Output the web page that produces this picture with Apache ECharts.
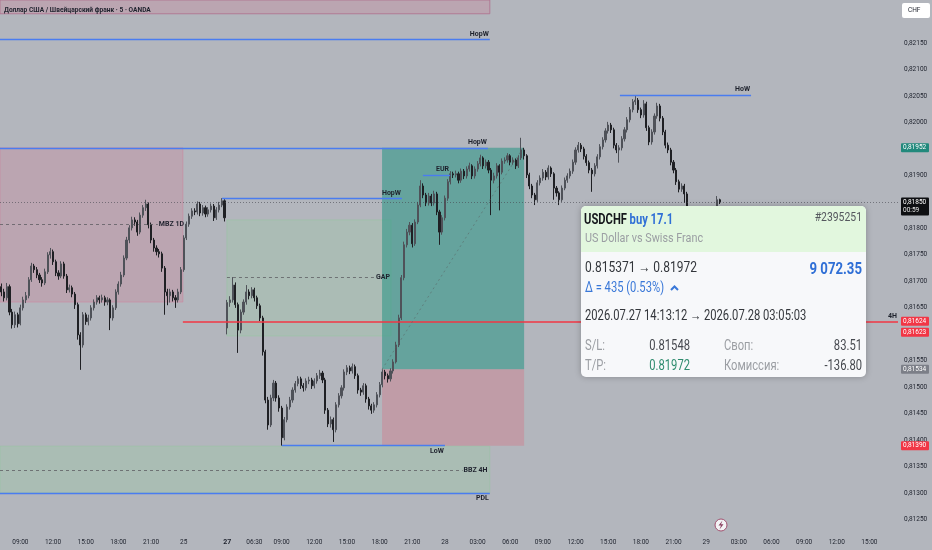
<!DOCTYPE html>
<html><head><meta charset="utf-8">
<script src="https://cdn.jsdelivr.net/npm/echarts@6/dist/echarts.min.js"></script>
<style>html,body{margin:0;padding:0;background:#b3b6bd;}#c{width:932px;height:550px;}</style>
</head><body><div id="c"></div>
<script>
// ---------- data ----------
const slotCount = 330; // 15-minute slots across the plot (incl. future space)
const tickSlots  = [7,19,31,43,55,67,83,93,103,115,127,139,151,163,175,187,199,211,223,235,247,259,271,283,295,307,319];
const tickLabels = ['09:00','12:00','15:00','18:00','21:00','25','27','06:30','09:00','12:00','15:00','18:00','21:00','28','03:00','06:00','09:00','12:00','15:00','18:00','21:00','29','03:00','06:00','09:00','12:00','15:00'];
const boldTicks = ['27'];
const priceTicks = [0.8125,0.8130,0.8135,0.8140,0.8145,0.8150,0.8155,0.8165,0.8170,0.8175,0.8180,0.8190,0.8200,0.8205,0.8210,0.8215];
const priceMin = 0.81227, priceMax = 0.82231;
const priceBase = 0.81, priceUnit = 0.00001;
// candles: [open, close, low, high] in units of 0.00001 above 0.81000
const candles = [
[690,680,672,696],[680,669,662,686],[669,690,664,697],[690,642,636,694],[642,618,611,648],
[618,637,612,643],[637,620,613,641],[620,650,617,656],[650,665,645,671],[665,673,659,680],
[673,703,668,708],[703,729,699,735],[729,722,716,733],[722,712,706,727],[712,703,697,716],
[703,697,690,708],[697,718,693,724],[718,750,714,755],[750,756,743,763],[756,737,731,760],
[737,716,710,741],[716,710,703,721],[710,733,706,738],[733,710,705,737],[710,684,678,714],
[684,688,679,694],[688,676,670,692],[676,656,648,680],[656,599,590,660],[599,580,533,604],
[580,637,575,642],[637,624,618,641],[624,631,617,637],[631,650,626,655],[650,661,645,666],
[661,669,656,674],[669,665,658,673],[665,669,660,675],[669,661,654,673],[661,665,655,670],
[665,631,608,668],[631,650,626,655],[650,680,646,685],[680,695,675,700],[695,712,690,718],
[712,744,708,749],[744,778,740,784],[778,801,772,806],[801,816,796,822],[816,812,805,821],
[812,793,786,816],[793,825,789,830],[825,839,820,844],[839,846,833,854],[846,807,800,849],
[807,778,772,811],[778,763,756,782],[763,756,749,768],[756,752,745,761],[752,725,718,756],
[725,680,637,729],[680,673,655,686],[673,680,660,686],[680,669,662,684],[669,665,650,674],
[665,680,660,686],[680,722,676,727],[722,782,718,787],[782,808,778,813],[808,823,803,828],
[823,833,818,838],[833,831,825,838],[831,846,826,851],[846,829,823,850],[829,839,824,844],
[839,827,821,843],[827,835,822,840],[835,842,830,847],[842,820,814,846],[820,835,816,840],
[835,844,830,850],[844,852,840,857],[852,820,813,855],[612,660,600,665],[660,665,652,672],
[665,693,660,708],[693,656,650,698],[656,608,565,660],[608,642,602,647],[642,661,637,666],
[661,680,656,693],[680,673,666,685],[673,684,668,689],[684,669,662,688],[669,654,648,673],
[654,631,625,658],[631,567,560,635],[567,476,470,571],[476,429,420,482],[429,480,425,486],
[480,508,474,514],[508,480,473,512],[480,461,454,485],[461,405,390,465],[405,439,400,444],
[439,463,434,468],[463,476,458,482],[476,495,471,500],[495,507,490,512],[507,516,502,521],
[516,503,497,520],[503,499,492,508],[499,512,494,517],[512,514,506,520],[514,503,497,518],
[503,512,498,517],[512,522,507,527],[522,527,516,533],[527,514,508,531],[514,457,450,518],
[457,431,425,461],[431,439,424,445],[439,420,397,443],[420,467,415,472],[467,484,462,489],
[484,499,479,504],[499,529,494,534],[529,537,523,542],[537,531,525,541],[531,539,526,545],
[539,522,516,543],[522,495,488,526],[495,491,484,499],[491,503,486,508],[503,478,471,507],
[478,465,458,482],[465,457,450,469],[457,467,452,472],[467,486,462,491],[486,505,481,510],
[505,529,500,534],[529,522,515,533],[522,516,509,526],[516,531,511,536],[531,548,526,553],
[548,580,545,586],[580,631,576,637],[631,707,627,712],[707,769,702,775],[769,793,764,799],
[793,806,787,812],[806,771,764,810],[771,812,767,817],[812,844,808,850],[844,880,840,891],
[880,863,857,885],[863,848,842,867],[848,861,843,867],[861,848,842,865],[848,865,843,871],
[865,831,825,869],[831,793,769,835],[793,820,788,825],[820,857,815,862],[857,888,852,893],
[888,903,883,908],[903,901,895,907],[901,903,896,909],[903,891,885,907],[891,908,886,913],
[908,899,893,912],[899,912,894,917],[912,918,907,924],[918,899,893,921],[899,912,894,917],
[912,922,907,927],[922,933,917,939],[933,918,912,936],[918,925,913,930],[925,910,904,929],
[910,891,825,914],[891,899,885,905],[899,918,894,923],[918,906,834,921],[906,927,902,932],
[927,929,922,934],[929,937,924,942],[937,925,919,940],[925,929,920,934],[929,918,912,932],
[918,933,914,938],[933,948,929,971],[948,937,930,952],[937,901,895,940],[901,880,874,905],
[880,863,857,884],[863,854,844,867],[854,886,850,891],[886,895,881,900],[895,906,890,912],
[906,897,891,910],[897,914,892,919],[914,903,897,917],[903,876,854,906],[876,867,860,880],
[867,854,844,870],[854,876,850,881],[876,891,872,896],[891,899,886,904],[899,908,894,913],
[908,925,903,930],[925,948,920,953],[948,957,943,963],[957,950,944,961],[950,936,930,954],
[936,924,918,940],[924,910,904,928],[910,903,869,914],[903,918,898,923],[918,935,913,940],
[935,954,930,959],[954,967,949,972],[967,984,962,989],[984,995,979,1001],[995,986,980,999],
[986,957,951,990],[957,948,942,961],[948,952,924,957],[952,969,947,974],[969,986,964,991],
[986,1005,981,1010],[1005,1024,1000,1029],[1024,1039,1019,1044],[1039,1042,1033,1050],[1042,1024,1018,1046],
[1024,1014,1008,1028],[1014,1035,1009,1042],[1035,990,984,1039],[990,963,957,994],[963,982,958,987],
[982,1012,977,1017],[1012,1031,1007,1037],[1031,1008,1002,1035],[1008,982,976,1012],[982,957,951,986],
[957,948,942,962],[948,925,919,952],[925,910,904,929],[910,888,882,914],[888,874,868,892],
[874,880,869,885],[880,865,848,884],[865,838,832,869],[838,820,814,841],[820,807,801,824],
[807,816,802,821],[816,807,801,820],[807,801,795,812],[801,812,796,817],[812,825,807,830],
[825,820,814,829],[820,835,815,839],[835,831,825,839],[831,854,827,861],[854,850,846,856]
];
// zones: [name, slotStart, slotEnd, priceLow, priceHigh]
const zones = [
  ['topBand', 0, 180, 0.82205, 0.82260],
  ['pinkBox', 0, 67.2, 0.81661, 0.81952],
  ['gapBox', 83.4, 143.7, 0.81597, 0.81816],
  ['bbzBox', 0, 180, 0.81301, 0.81389],
  ['tpBox', 140.4, 192.6, 0.81534, 0.81952],
  ['slBox', 140.4, 192.6, 0.81390, 0.81534]
];
// levels: [kind, slotStart, slotEnd, price, label]
const levels = [
  ['blue', 0, 180, 0.82156, 'HopW'],
  ['blue', 0, 179.3, 0.81952, 'HopW'],
  ['blue', 81.6, 147.7, 0.81856, 'HopW'],
  ['blue', 155.4, 165.4, 0.81901, 'EUR'],
  ['blue', 227.8, 276, 0.82052, 'HoW'],
  ['blueBelow', 103.6, 163.5, 0.81390, 'LoW'],
  ['blueBelow', 0, 180, 0.81301, 'PDL'],
  ['dash', 0, 58, 0.81808, 'MBZ 1D'],
  ['dash', 83.4, 137.8, 0.81707, 'GAP'],
  ['dash', 0, 170, 0.81344, 'BBZ 4H'],
  ['red', 67.2, 330, 0.81624, '4H'],
  ['dot', 0, 330, 0.81850, '']
];
const tradeLine = [[140.4, 0.81534], [192.2, 0.81952]];
// right-axis price tags: [kind, price, text, subText]
const priceTags = [
  ['teal', 0.81952, '0,81952'],
  ['black', 0.81850, '0,81850', '00:59'],
  ['red', 0.81624, '0,81624'],
  ['redBelow', 0.81624, '0,81623'],
  ['gray', 0.81534, '0,81534'],
  ['red', 0.81390, '0,81390']
];
const titleText = 'Доллар США / Швейцарский франк · 5 · OANDA';

// ---------- chart ----------
const NARROW = "'Roboto','DejaVu Sans Condensed',sans-serif";
const TXT = '#1e222d';
const chart = echarts.init(document.getElementById('c'), null, {renderer:'canvas'});
const toP = v => +(priceBase + v * priceUnit).toFixed(5);
const candleData = candles.map(c => [toP(c[0]), toP(c[1]), toP(c[2]), toP(c[3])]);
const cats = Array.from({length: slotCount}, (_, i) => String(i));
const tickMap = {};
tickSlots.forEach((s, k) => tickMap[s] = tickLabels[k]);

const zoneStyle = {
  topBand: {color:'rgba(205,125,150,0.30)', borderColor:'rgba(175,110,140,0.8)', borderWidth:1},
  pinkBox: {color:'rgba(205,125,150,0.30)', borderColor:'rgba(205,135,160,0.6)', borderWidth:1},
  gapBox:  {color:'rgba(150,205,160,0.28)', borderColor:'rgba(150,200,160,0.5)', borderWidth:1},
  bbzBox:  {color:'rgba(150,205,160,0.30)', borderColor:'rgba(150,200,160,0.5)', borderWidth:1},
  tpBox:   {color:'rgba(45,150,135,0.58)'},
  slBox:   {color:'rgba(212,118,136,0.40)'}
};
const labStyle = {color: TXT, fontSize: 7, fontWeight: 'bold', fontFamily: NARROW};
const BLUE = '#4a7cf0';
const lineKinds = {
  blue: {line:{color:BLUE, width:1.4, type:'solid'}, pos:'insideEndTop'},
  blueBelow: {line:{color:BLUE, width:1.4, type:'solid'}, pos:'insideEndBottom'},
  dash: {line:{color:'rgba(90,90,95,0.75)', width:1, type:[3,3]}, pos:'end'},
  red: {line:{color:'#f23645', width:1.5, type:'solid'}, pos:'insideEndTop'},
  dot: {line:{color:'rgba(70,72,80,0.6)', width:1, type:[1,2]}, pos:'end'}
};
const markAreaData = zones.map(z => [
  {coord:[z[1], z[4]], itemStyle: zoneStyle[z[0]]},
  {coord:[z[2], z[3]]}
]);
const markLineData = levels.map(l => {
  const k = lineKinds[l[0]];
  return [
    {coord:[l[1], l[3]], lineStyle: Object.assign({}, k.line),
     label: Object.assign({show: !!l[4], formatter: l[4], position: k.pos, distance: [1, 2]}, labStyle)},
    {coord:[l[2], l[3]]}
  ];
});
markLineData.push([
  {coord: tradeLine[0], lineStyle:{color:'rgba(90,100,100,0.55)', width:1, type:[2,3]}, label:{show:false}},
  {coord: tradeLine[1]}
]);

chart.setOption({
  animation: false,
  backgroundColor: '#b3b6bd',
  grid: {left:0, right:34, top:0, bottom:18, containLabel:false},
  xAxis: [{
    type:'category', data: cats, boundaryGap:true,
    axisLine:{show:false}, axisTick:{show:false}, splitLine:{show:false},
    axisLabel:{
      interval: (idx) => tickMap[idx] !== undefined,
      formatter: (val, idx) => { const t = tickMap[idx] || ''; return boldTicks.includes(t) ? '{b|' + t + '}' : t; },
      color: TXT, fontSize: 6.5, fontFamily: NARROW, margin: 7,
      rich: {b: {fontWeight:'bold', fontSize: 7, color: TXT, fontFamily: NARROW}}
    }
  }, {
    type:'value', min:0, max: slotCount, show:false
  }],
  yAxis: [{
    type:'value', position:'right', min: priceMin, max: priceMax, scale:true,
    axisLine:{show:false}, axisTick:{show:false}, splitLine:{show:false},
    axisLabel:{
      customValues: priceTicks,
      formatter: v => v.toFixed(5).replace('.', ','),
      color: TXT, fontSize: 6.5, fontFamily: NARROW, margin: 6
    }
  }],
  series: [{
    type:'candlestick', xAxisIndex:0, yAxisIndex:0, data: candleData,
    barWidth: 1.6, z: 2,
    itemStyle:{color:'#4f5259', color0:'#1f2024', borderColor:'#4f5259', borderColor0:'#1f2024', borderWidth:1}
  }, {
    type:'scatter', xAxisIndex:1, yAxisIndex:0, data:[[0, priceMax]], symbolSize:0, z:3, silent:true,
    markArea:{silent:true, data: markAreaData},
    markLine:{silent:true, symbol:['none','none'], data: markLineData}
  }]
});

// ---------- overlay graphics (own top layer) ----------
const tagColors = {teal:'#22897c', black:'#0e0f12', red:'#f23645', redBelow:'#f23645', gray:'#7c7f88'};
const g = [];
g.push({type:'group', x:4, y:10, scaleX:0.88, children:[
  {type:'text', x:0, y:0, style:{text: titleText, fill: TXT, font: "bold 7.5px Roboto", verticalAlign:'middle'}}
]});
// CHF box
g.push({type:'rect', shape:{x:902, y:3, width:28, height:15, r:2}, style:{fill:'#ffffff'}});
g.push({type:'text', x:908, y:10.5, style:{text:'CHF', fill:TXT, font:"6.5px Roboto", verticalAlign:'middle'}});
priceTags.forEach(t => {
  const y = chart.convertToPixel({yAxisIndex:0}, t[1]);
  const h = t[3] ? 18 : 9;
  let top = y - 4.5;
  if (t[0] === 'redBelow') top = y + 6;
  if (t[0] === 'red' && t[1] === 0.81624) top = y - 5;
  g.push({type:'rect', shape:{x:901, y:top, width:28, height:h, r:1}, style:{fill: tagColors[t[0]]}});
  g.push({type:'text', x:903, y: top + 4.5, style:{text:t[2], fill:'#ffffff', font:"6.5px Roboto", verticalAlign:'middle'}});
  if (t[3]) g.push({type:'text', x:903, y: top + 13, style:{text:t[3], fill:'#e8e8e8', font:"6.5px Roboto", verticalAlign:'middle'}});
});
// lightning marker
g.push({type:'circle', shape:{cx:721, cy:525, r:6}, style:{fill:'#f3f3f5', stroke:'#a0506e', lineWidth:1}});
g.push({type:'polygon', shape:{points:[[722.5,520.5],[718.5,525.5],[721,525.5],[719.5,529.5],[723.5,524.2],[721,524.2]]}, style:{fill:'#8a3f5e'}});

// info panel (text is horizontally condensed like the source)
const P = {x:581, y:206, w:285, h:171};
const SX = 0.8;
const F = 'Roboto';
const tx = (x) => x / SX;
const panelText = [
  {type:'text', x:tx(3), y:14, style:{text:'{a|USDCHF} {b|buy 17.1}', verticalAlign:'middle',
     rich:{a:{font:'bold 14px ' + F, fill:'#15171c'}, b:{font:'bold 14px ' + F, fill:'#2f6fd6'}}}},
  {type:'text', x:tx(281), y:12, style:{text:'#2395251', align:'right', verticalAlign:'middle', font:'13px ' + F, fill:'#55585e'}},
  {type:'text', x:tx(4), y:33, style:{text:'US Dollar vs Swiss Franc', verticalAlign:'middle', font:'13.5px ' + F, fill:'#9b9ea3'}},
  {type:'text', x:tx(4), y:62, style:{text:'0.815371 \u2192 0.81972', verticalAlign:'middle', font:'15px ' + F, fill:'#33363b'}},
  {type:'text', x:tx(281), y:64, style:{text:'9 072.35', align:'right', verticalAlign:'middle', font:'bold 16.5px ' + F, fill:'#2f6fd6'}},
  {type:'text', x:tx(4), y:82, style:{text:'\u0394 = 435 (0.53%)', verticalAlign:'middle', font:'14px ' + F, fill:'#3a78d8'}},
  {type:'text', x:tx(4), y:110, style:{text:'2026.07.27 14:13:12 \u2192 2026.07.28 03:05:03', verticalAlign:'middle', font:'14px ' + F, fill:'#33363b'}},
  {type:'text', x:tx(4), y:140, style:{text:'S/L:', verticalAlign:'middle', font:'14px ' + F, fill:'#9b9ea3'}},
  {type:'text', x:tx(109), y:140, style:{text:'0.81548', align:'right', verticalAlign:'middle', font:'14px ' + F, fill:'#45484e'}},
  {type:'text', x:tx(143), y:140, style:{text:'Своп:', verticalAlign:'middle', font:'14px ' + F, fill:'#9b9ea3'}},
  {type:'text', x:tx(281), y:140, style:{text:'83.51', align:'right', verticalAlign:'middle', font:'14px ' + F, fill:'#45484e'}},
  {type:'text', x:tx(4), y:160, style:{text:'T/P:', verticalAlign:'middle', font:'14px ' + F, fill:'#9b9ea3'}},
  {type:'text', x:tx(109), y:160, style:{text:'0.81972', align:'right', verticalAlign:'middle', font:'14px ' + F, fill:'#2e8b6e'}},
  {type:'text', x:tx(143), y:160, style:{text:'Комиссия:', verticalAlign:'middle', font:'14px ' + F, fill:'#9b9ea3'}},
  {type:'text', x:tx(281), y:160, style:{text:'-136.80', align:'right', verticalAlign:'middle', font:'14px ' + F, fill:'#45484e'}}
];
const panel = {type:'group', x:P.x, y:P.y, children:[
  {type:'rect', shape:{x:0,y:0,width:P.w,height:P.h,r:5}, style:{fill:'#f7f8fa', shadowBlur:6, shadowColor:'rgba(0,0,0,0.25)'}},
  {type:'rect', shape:{x:0,y:0,width:P.w,height:46,r:[5,5,0,0]}, style:{fill:'#e2f7de'}},
  {type:'group', x:0, y:0, scaleX:SX, children: panelText},
  {type:'polyline', shape:{points:[[90,84],[93.5,80.5],[97,84]]}, style:{stroke:'#3a78d8', lineWidth:2, fill:null}}
]};
g.push(panel);
// put every overlay element on its own top canvas layer
const lift = (el, depth) => { el.zlevel = 1; el.z = 10 + depth; (el.children || []).forEach(c => lift(c, depth + 1)); };
g.forEach(el => lift(el, 0));
chart.setOption({graphic: g});
</script>
</body></html>
